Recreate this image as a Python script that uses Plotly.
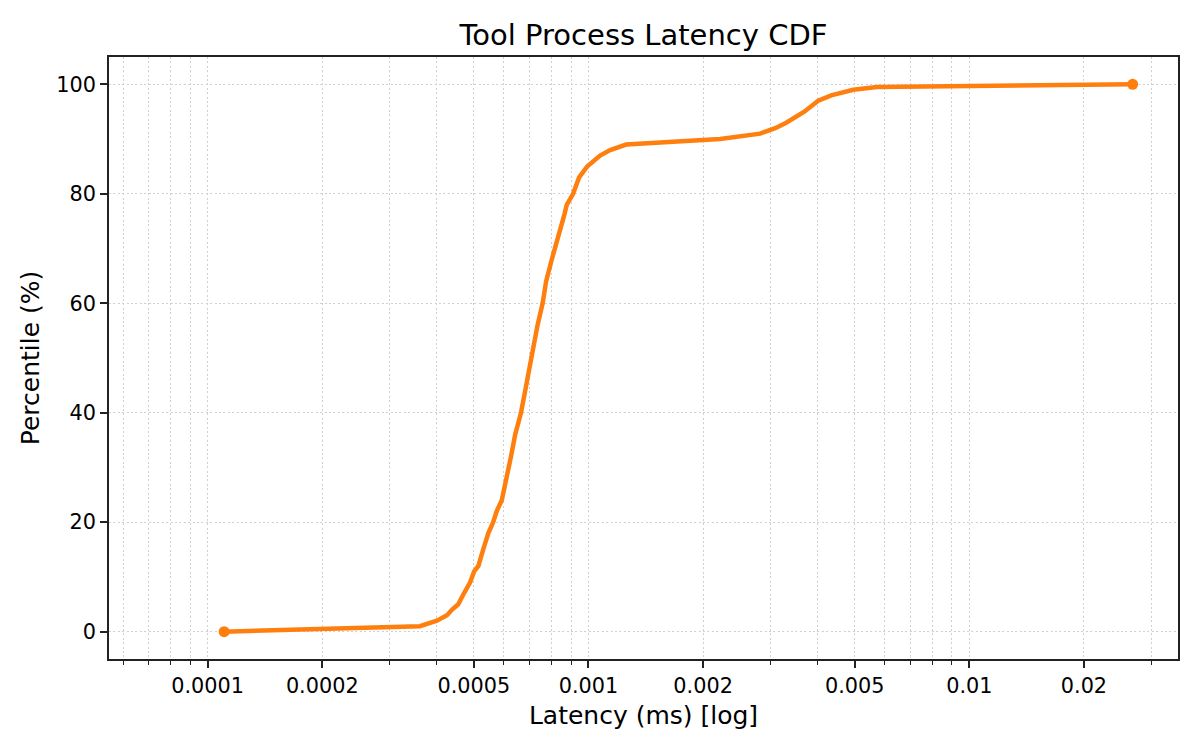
import plotly.graph_objects as go

# percentiles
percentiles = [0, 1, 2, 3, 4, 5, 7, 9, 11, 12, 15, 18, 20, 22, 24, 28, 32, 36, 40,
               44, 45, 52, 56, 60, 64, 68, 72, 76, 78, 80, 83, 85, 87, 88, 89,
               90, 91, 92, 93, 94, 95, 96, 97, 98, 99, 99.5, 100]
latency_ms = [0.0001105, 0.000361, 0.000400, 0.000425, 0.000438, 0.000455, 0.000471,
              0.000489, 0.000501, 0.000514, 0.000529, 0.000546, 0.000562, 0.000574,
              0.000592, 0.000610, 0.000626, 0.000642, 0.000665, 0.000682, 0.000686,
              0.000717, 0.000735, 0.000758, 0.000774, 0.000801, 0.000834, 0.000863,
              0.000877, 0.000911, 0.000945, 0.000992, 0.001073, 0.001140, 0.001256,
              0.002218, 0.002824, 0.003093, 0.003306, 0.003512, 0.003687, 0.003845,
              0.004011, 0.004339, 0.004958, 0.005721, 0.026853]

x_ticks = [0.0001, 0.0002, 0.0005, 0.001, 0.002, 0.005, 0.01, 0.02]
x_tick_text = ["0.0001", "0.0002", "0.0005", "0.001", "0.002", "0.005", "0.01", "0.02"]
x_minor = [0.00006, 0.00007, 0.00008, 0.00009,
           0.0003, 0.0004, 0.0006, 0.0007, 0.0008, 0.0009,
           0.003, 0.004, 0.006, 0.007, 0.008, 0.009,
           0.03]
y_ticks = [0, 20, 40, 60, 80, 100]

ORANGE = "#ff7f0e"
GRID = "#d0d0d0"
AXIS = "#222222"
FONT = "DejaVu Sans"
DOTS = "2px,2.4px"

fig = go.Figure()

fig.add_trace(go.Scatter(
    x=latency_ms, y=percentiles,
    mode="lines",
    line=dict(color=ORANGE, width=4.5),
    hoverinfo="skip",
    showlegend=False,
))

# end points get a dot
fig.add_trace(go.Scatter(
    x=[latency_ms[0], latency_ms[-1]], y=[percentiles[0], percentiles[-1]],
    mode="markers",
    marker=dict(color=ORANGE, size=11),
    showlegend=False,
))

fig.update_layout(
    width=1200, height=750,
    margin=dict(l=109, r=22, t=57, b=91),
    paper_bgcolor="white", plot_bgcolor="white",
    font=dict(family=FONT, color="black", size=21),
    title=dict(text="Tool Process Latency CDF", xref="paper", x=0.5, xanchor="center",
               y=1 - 35 / 750, yanchor="middle",
               font=dict(family=FONT, size=29, color="black")),
)

fig.update_xaxes(
    type="log",
    range=[-4.259, -1.452],
    tickvals=x_ticks, ticktext=x_tick_text,
    ticks="outside", ticklen=7, tickwidth=1.7, tickcolor=AXIS,
    showline=True, linecolor=AXIS, linewidth=1.7, mirror=True,
    showgrid=True, gridcolor=GRID, griddash=DOTS, gridwidth=1.3,
    zeroline=False,
    tickfont=dict(size=20.8),
    minor=dict(tickvals=x_minor, ticks="outside", ticklen=4, tickwidth=1.2,
               tickcolor=AXIS, showgrid=True, gridcolor=GRID,
               griddash=DOTS, gridwidth=1.3),
    title=dict(text="Latency (ms) [log]", font=dict(size=25), standoff=10),
)

fig.update_yaxes(
    range=[-5, 105],
    tickvals=y_ticks,
    ticks="outside", ticklen=7, tickwidth=1.7, tickcolor=AXIS,
    showline=True, linecolor=AXIS, linewidth=1.7, mirror=True,
    showgrid=True, gridcolor=GRID, griddash=DOTS, gridwidth=1.3,
    zeroline=False,
    tickfont=dict(size=20.8),
    title=dict(text="Percentile (%)", font=dict(size=25), standoff=10),
)

# page body has a default 8px margin; drop it so the figure sits at 0,0
fig.write_html("out.html", config={"displayModeBar": False},
               post_script="document.body.style.margin='0';")
